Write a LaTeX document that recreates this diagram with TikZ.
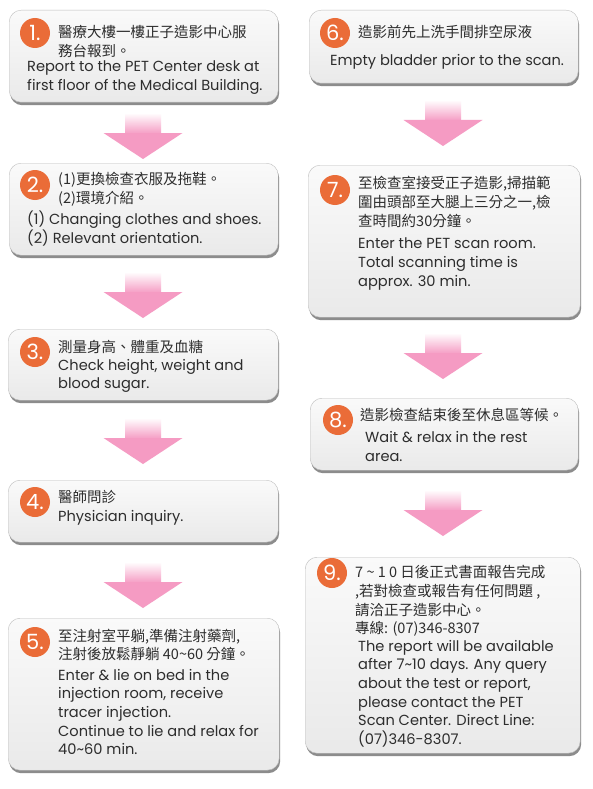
\documentclass[tikz,border=0pt]{standalone}
\usepackage{fontspec}
\setmainfont{Poppins}
\newfontfamily\cjkfont{Noto Sans CJK TC}
\usetikzlibrary{shadows, positioning}

\definecolor{badgeorange}{RGB}{234,108,56}
\definecolor{arrowpink}{RGB}{245,155,195}
\definecolor{boxline}{RGB}{190,190,190}
\definecolor{textgray}{RGB}{45,45,45}

\begin{document}
\begin{tikzpicture}[x=1pt, y=-1pt,
				% Define styles
				stepbox/.style={rectangle, draw=boxline, thin, rounded corners=12pt, anchor=north west,
					top color=gray!4, bottom color=gray!17,
					drop shadow={shadow xshift=1pt, shadow yshift=-3pt, fill=black!75, opacity=.6}},
				badge/.style={circle, fill=badgeorange, minimum size=30pt, inner sep=0pt, text=white, font=\fontsize{21}{21}\selectfont},
				cntext/.style={anchor=west, inner sep=0pt, align=left, text=textgray, font=\cjkfont\fontsize{14.5}{18.6}\selectfont},
				entext/.style={anchor=west, inner sep=0pt, align=left, text=textgray, font=\fontsize{14.6}{18.6}\selectfont},
				pics/downarrow/.style={code={
					\fill[top color=white, bottom color=arrowpink] (-18,0) rectangle (18,21);
					\fill[arrowpink] (-39.5,20) -- (39.5,20) -- (0,46) -- cycle;
				}}
				]
				
				% Canvas
				\useasboundingbox[fill=white] (0,0) rectangle (593,789);
				
				% Step boxes, left column
				\node[stepbox, minimum width=269, minimum height=92] (b1) at (9,10) {};
				\node[stepbox, minimum width=269, minimum height=92] (b2) at (9,163) {};
				\node[stepbox, minimum width=270, minimum height=71] (b3) at (8,329) {};
				\node[stepbox, minimum width=270, minimum height=62] (b4) at (8,480) {};
				\node[stepbox, minimum width=271, minimum height=152] (b5) at (8,618) {};
				
				% Step boxes, right column
				\node[stepbox, minimum width=269, minimum height=73] (b6) at (309,10) {};
				\node[stepbox, minimum width=272, minimum height=152] (b7) at (308,165) {};
				\node[stepbox, minimum width=268, minimum height=72] (b8) at (310,398) {};
				\node[stepbox, minimum width=275, minimum height=196] (b9) at (305,557) {};
				
				% Number badges
				\node[badge] (n1) at (35,33) {1.};
				\node[badge] (n2) at (35,185) {2.};
				\node[badge] (n3) at (35,352) {3.};
				\node[badge] (n4) at (35,502) {4.};
				\node[badge] (n5) at (35,642) {5.};
				\node[badge] (n6) at (335,33) {6.};
				\node[badge] (n7) at (335,190) {7.};
				\node[badge] (n8) at (338,420) {8.};
				\node[badge] (n9) at (332,573) {9.};
				
				% Step 1
				\node[cntext] (c1) at (58,41.5) {醫療大樓一樓正子造影中心服\\務台報到。};
				\node[entext] (e1) at (27,77.5) {Report to the PET Center desk at\\first floor of the Medical Building.};
				
				% Step 2
				\node[cntext] (c2) at (58,189) {(1)更換檢查衣服及拖鞋。\\(2)環境介紹。};
				\node[entext] (e2) at (27,228.5) {(1) Changing clothes and shoes.\\(2) Relevant orientation.};
				
				% Step 3
				\node[cntext] (c3) at (58,347) {測量身高、體重及血糖};
				\node[entext] (e3) at (58,376) {Check height, weight and\\blood sugar.};
				
				% Step 4
				\node[cntext] (c4) at (58,497) {醫師問診};
				\node[entext] (e4) at (58,518) {Physician inquiry.};
				
				% Step 5
				\node[cntext] (c5) at (58,645) {至注射室平躺,準備注射藥劑,\\注射後放鬆靜躺 40\textasciitilde 60 分鐘。};
				\node[entext] (e5) at (58,712) {Enter \& lie on bed in the\\injection room, receive\\tracer injection.\\Continue to lie and relax for\\40\textasciitilde 60 min.};
				
				% Step 6
				\node[cntext] (c6) at (358,32) {造影前先上洗手間排空尿液};
				\node[entext] (e6) at (330,62) {Empty bladder prior to the scan.};
				
				% Step 7
				\node[cntext] (c7) at (358,202) {至檢查室接受正子造影,掃描範\\圍由頭部至大腿上三分之一,檢\\查時間約30分鐘。};
				\node[entext] (e7) at (358,264) {Enter the PET scan room.\\Total scanning time is\\approx. 30 min.};
				
				% Step 8
				\node[cntext] (c8) at (360,415) {造影檢查結束後至休息區等候。};
				\node[entext] (e8) at (365,446.5) {Wait \& relax in the rest\\area.};
				
				% Step 9
				\node[cntext] (c9) at (355,601) {7 \textasciitilde{} 1 0 日後正式書面報告完成\\,若對檢查或報告有任何問題 ,\\請洽正子造影中心。\\專線: (07)346-8307};
				\node[entext] (e9) at (358,693.5) {The report will be available\\after 7\textasciitilde 10 days. Any query\\about the test or report,\\please contact the PET\\Scan Center. Direct Line:\\(07)346-8307.};
				
				% Flow arrows
				\coordinate (a12) at (143,113);
				\coordinate (a23) at (143,272);
				\coordinate (a34) at (143,418);
				\coordinate (a45) at (143,562);
				\coordinate (a67) at (443,100);
				\coordinate (a78) at (443,333);
				\coordinate (a89) at (443,490);
				\foreach \a in {a12, a23, a34, a45, a67, a78, a89}
					\pic at (\a) {downarrow};
				
			\end{tikzpicture}
\end{document}
